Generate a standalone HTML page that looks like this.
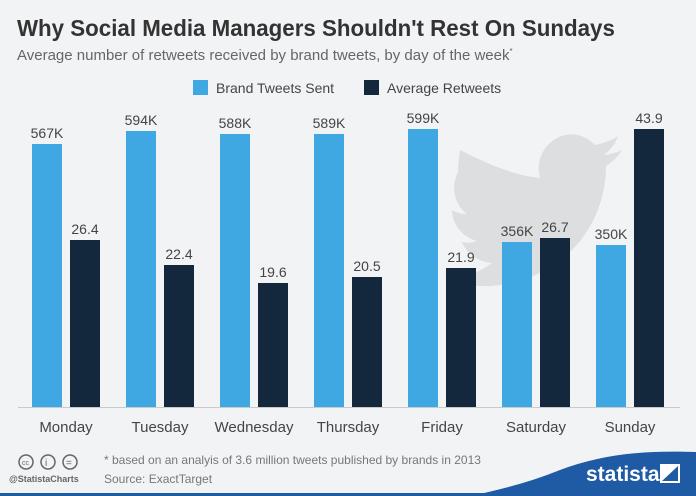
<!DOCTYPE html><html><head><style>
body{margin:0;width:696px;height:496px;overflow:hidden;background:#f2f3f4;font-family:"Liberation Sans",sans-serif;position:relative}
.t{position:absolute;white-space:nowrap}
</style></head><body>
<svg width="696" height="496" style="position:absolute;left:0;top:0" font-family="Liberation Sans, sans-serif">
<path d="M460 150 C480 160 510 175 540 178 C535 160 545 140 565 135 C580 132 590 140 595 145 C605 143 612 140 618 136 C615 145 610 150 604 155 C612 154 618 152 622 150 C618 157 612 162 606 166 C606 220 570 275 500 285 C480 288 460 285 445 278 C465 278 480 272 492 263 C478 262 466 253 462 242 C467 243 472 243 477 241 C462 237 452 224 452 210 C457 213 462 214 467 214 C455 205 450 188 458 172 C458 165 459 157 460 150Z" fill="#dcdee0"/>
<line x1="18" y1="407.5" x2="680" y2="407.5" stroke="#c8cacc" stroke-width="1"/>
<g fill="#3fa7e1">
<rect x="32" y="144" width="30" height="263"/><rect x="126" y="131" width="30" height="276"/><rect x="220" y="134" width="30" height="273"/><rect x="314" y="134" width="30" height="273"/><rect x="408" y="129" width="30" height="278"/><rect x="502" y="242" width="30" height="165"/><rect x="596" y="245" width="30" height="162"/>
</g>
<g fill="#13283d">
<rect x="70" y="240" width="30" height="167"/><rect x="164" y="265" width="30" height="142"/><rect x="258" y="283" width="30" height="124"/><rect x="352" y="277" width="30" height="130"/><rect x="446" y="268" width="30" height="139"/><rect x="540" y="238" width="30" height="169"/><rect x="634" y="129" width="30" height="278"/>
</g>
<g fill="#444" font-size="14" text-anchor="middle">
<text x="47" y="138">567K</text><text x="141" y="125">594K</text><text x="235" y="128">588K</text><text x="329" y="128">589K</text><text x="423" y="123">599K</text><text x="517" y="236">356K</text><text x="611" y="239">350K</text>
<text x="85" y="234">26.4</text><text x="179" y="259">22.4</text><text x="273" y="277">19.6</text><text x="367" y="271">20.5</text><text x="461" y="262">21.9</text><text x="555" y="232">26.7</text><text x="649" y="123">43.9</text>
</g>
<g fill="#444" font-size="15" text-anchor="middle">
<text x="66" y="432">Monday</text><text x="160" y="432">Tuesday</text><text x="254" y="432">Wednesday</text><text x="348" y="432">Thursday</text><text x="442" y="432">Friday</text><text x="536" y="432">Saturday</text><text x="630" y="432">Sunday</text>
</g>
<rect x="193" y="80" width="15" height="15" fill="#3fa7e1"/><text x="216" y="93" font-size="14" fill="#444">Brand Tweets Sent</text>
<rect x="364" y="80" width="15" height="15" fill="#13283d"/><text x="387" y="93" font-size="14" fill="#444">Average Retweets</text>
<path d="M470 496 L696 496 L696 452 C640 450 600 455 560 470 C530 482 500 490 470 496Z" fill="#1f5aa5"/>
<path d="M0 493 L696 493 L696 496 L0 496Z" fill="#1f5aa5"/>
<text x="586" y="481" font-size="21" font-weight="bold" fill="#fff">statista</text>
<rect x="660" y="464" width="20" height="19" fill="#fff"/><path d="M662 481 L678 466 L678 481Z" fill="#1f5aa5"/>
<g fill="none" stroke="#666" stroke-width="1.5"><circle cx="26" cy="462" r="7"/><circle cx="48" cy="462" r="7"/><circle cx="70" cy="462" r="7"/></g>
<text x="22" y="465" font-size="7" fill="#666">cc</text>
<text x="45" y="466" font-size="10" fill="#666">i</text>
<text x="66" y="466" font-size="10" fill="#666">=</text>
</svg>
<div class="t" style="left:17px;top:15px;font-size:23px;font-weight:bold;color:#333;transform:scaleX(0.97);transform-origin:0 0">Why Social Media Managers Shouldn't Rest On Sundays</div>
<div class="t" style="left:17px;top:47px;font-size:15px;color:#666">Average number of retweets received by brand tweets, by day of the week<sup style="font-size:8px">*</sup></div>
<div class="t" style="left:104px;top:453px;font-size:12px;color:#777">* based on an analyis of 3.6 million tweets published by brands in 2013</div>
<div class="t" style="left:104px;top:472px;font-size:12px;color:#777">Source: ExactTarget</div>
<div class="t" style="left:9px;top:474px;font-size:9px;color:#666;font-weight:bold">@StatistaCharts</div>
</body></html>
